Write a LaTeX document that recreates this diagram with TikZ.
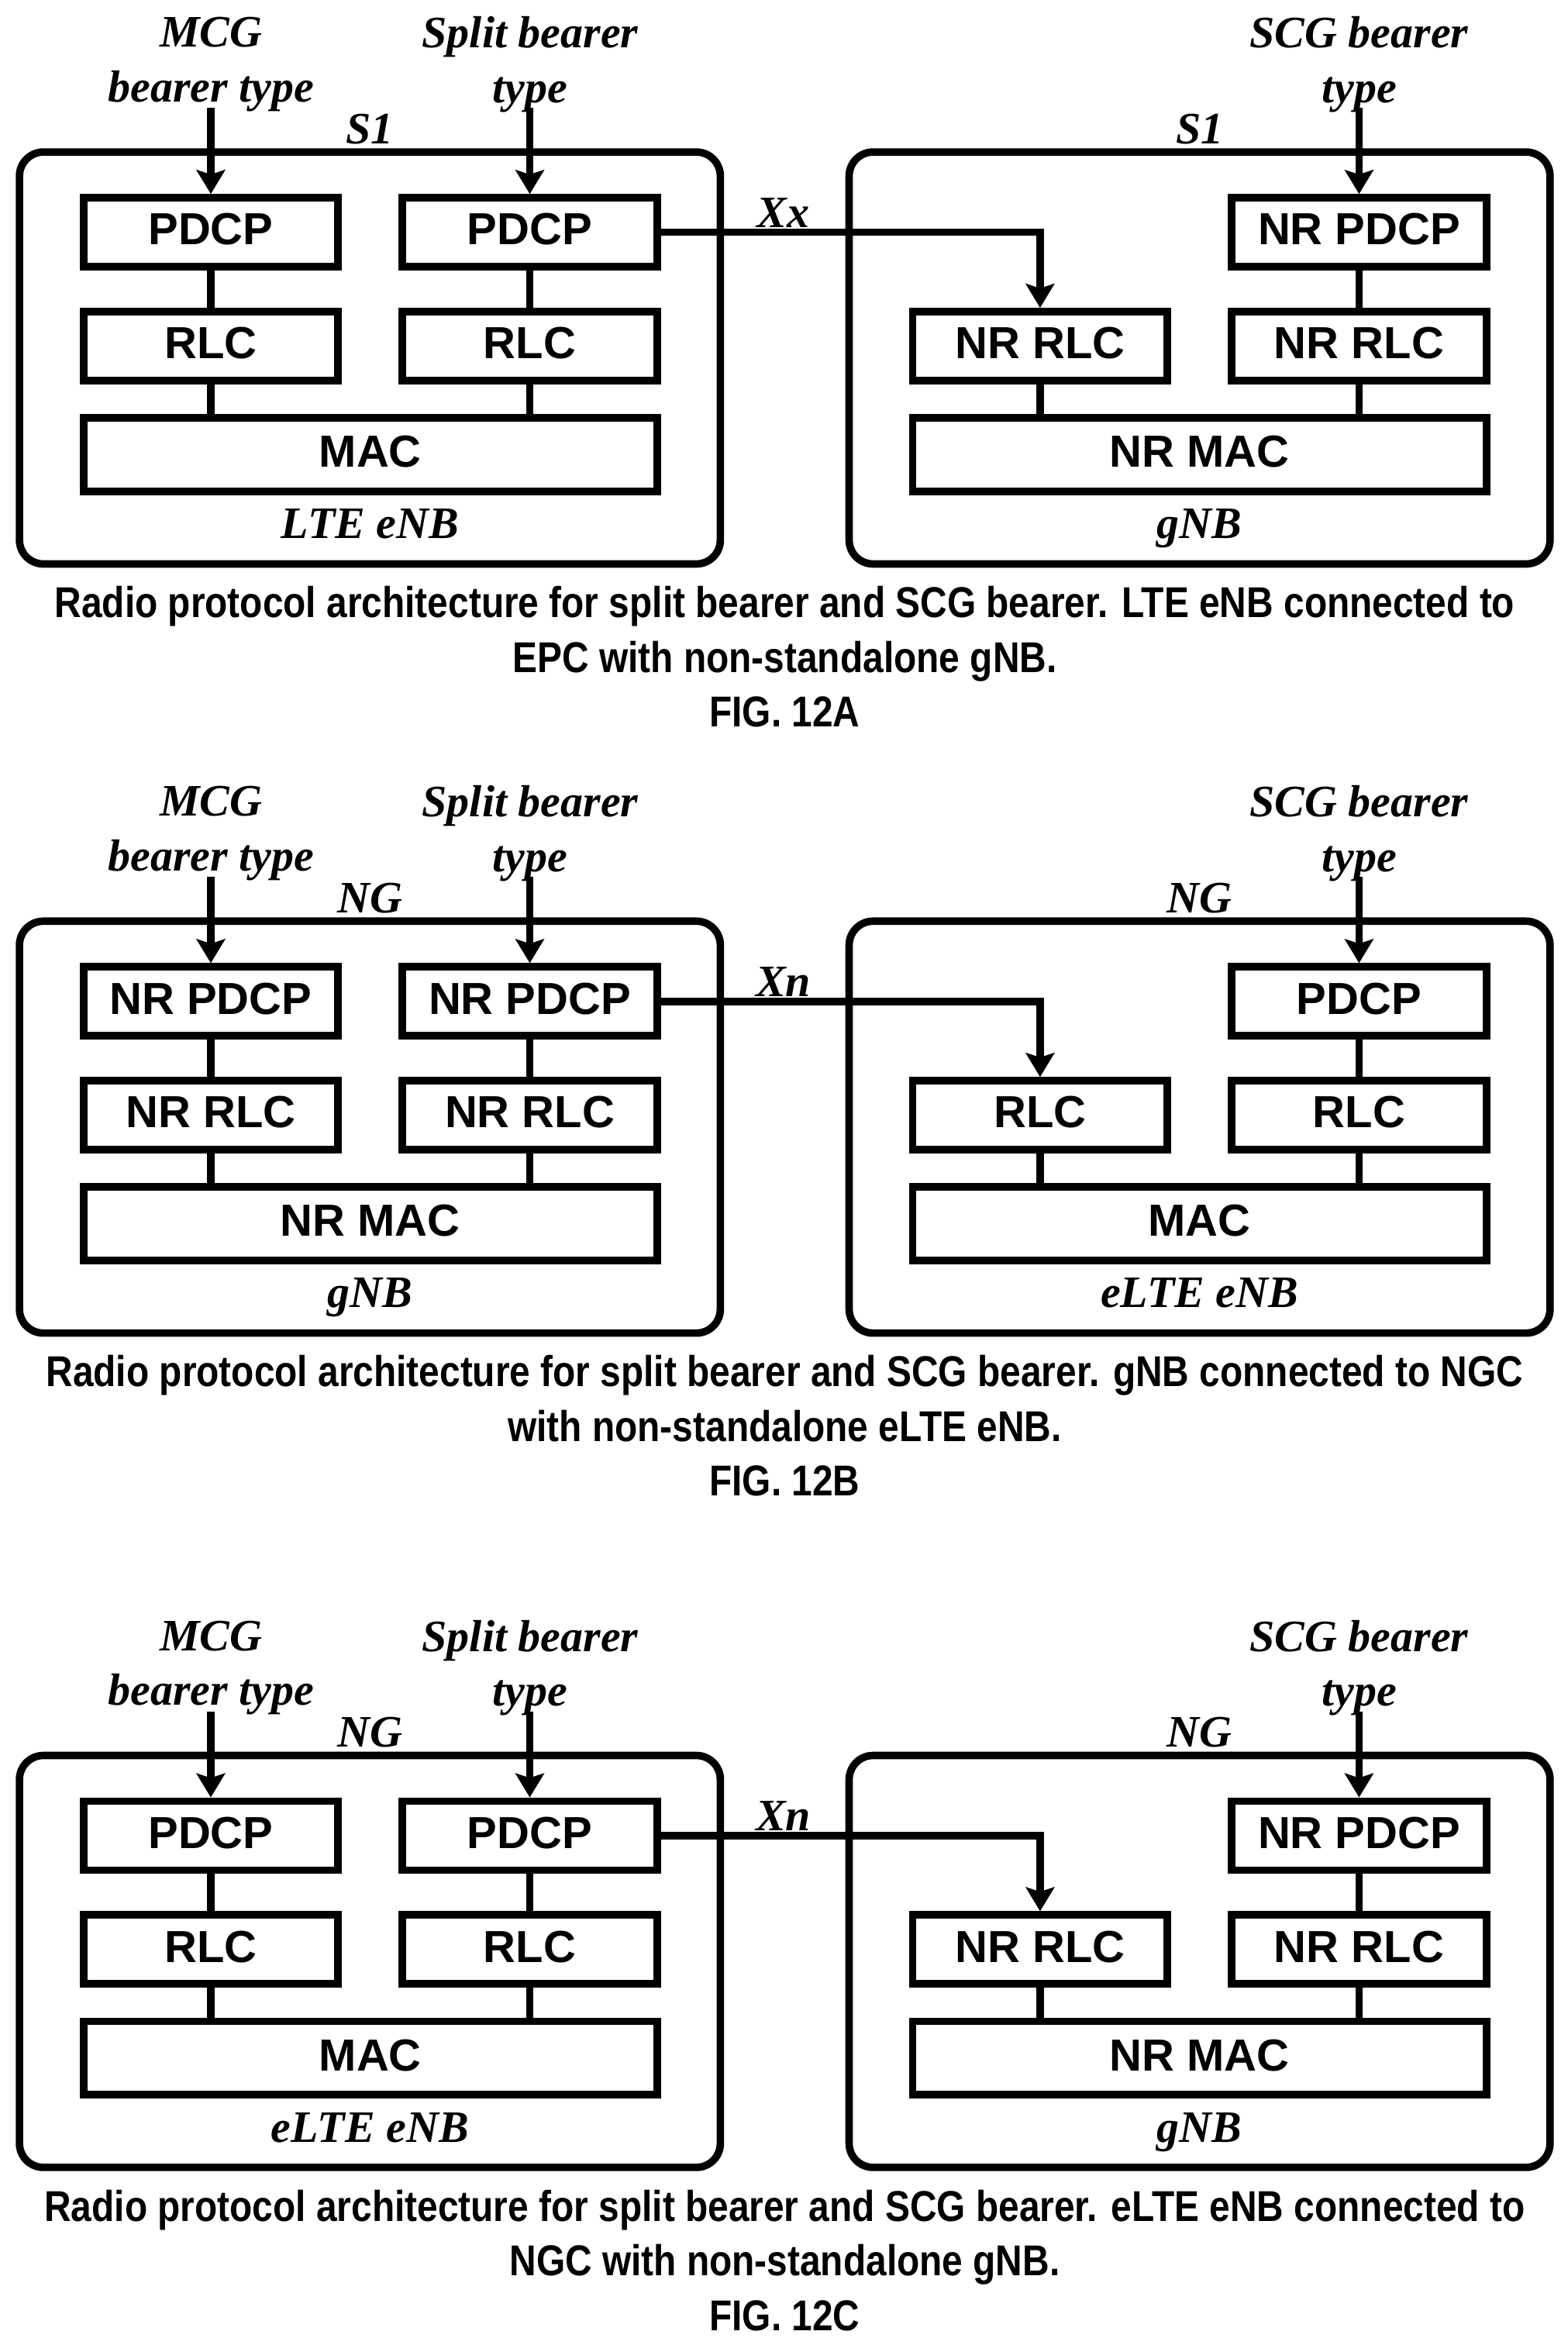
\documentclass[tikz,border=0pt]{standalone}
\usepackage{fontspec}
\usetikzlibrary{arrows.meta}
\newfontfamily\labfont{Liberation Serif}
\newfontfamily\boxfont{Liberation Sans}
\newfontfamily\capfont[FakeStretch=0.86]{Liberation Sans}
\tikzset{
  enbbox/.style={draw, line width=2.5pt, rounded corners=8pt, minimum width=234pt, minimum height=137.5pt},
  layerbox/.style={draw, line width=2.5pt, fill=white, inner sep=0pt, minimum width=85pt, minimum height=23pt,
    text depth=2pt, font=\boxfont\bfseries\fontsize{15}{18}\selectfont},
  macbox/.style={layerbox, minimum width=191.5pt, minimum height=24.5pt},
  lab/.style={inner sep=0pt, align=center, font=\labfont\bfseries\itshape\fontsize{15}{18.25}\selectfont},
  namelab/.style={lab, anchor=base},
  caption/.style={inner sep=0pt, align=center, font=\capfont\bfseries\fontsize{14.4}{18.25}\selectfont},
  conn/.style={line width=2.5pt},
  flow/.style={conn, -{Stealth[length=8pt, width=9.5pt, inset=1.5pt]}}
}
\begin{document}
\begin{tikzpicture}[x=0.5pt, y=-0.5pt]
\useasboundingbox (0,0) rectangle (1047,1565.6);

% One panel per figure: offset, layer names, interface names, caption
\foreach \pn/\yo/\cy/\lp/\lr/\lm/\ln/\rp/\rr/\rmc/\rn/\core/\xn/\captxt in {
  a/0/438.5/PDCP/RLC/MAC/LTE eNB/NR PDCP/NR RLC/NR MAC/gNB/S1/Xx/{Radio protocol architecture for split bearer and SCG bearer. LTE eNB connected to\\EPC with non-standalone gNB.\\FIG. 12A},
  b/513.5/952/NR PDCP/NR RLC/NR MAC/gNB/PDCP/RLC/MAC/eLTE eNB/NG/Xn/{Radio protocol architecture for split bearer and SCG bearer. gNB connected to NGC\\with non-standalone eLTE eNB.\\FIG. 12B},
  c/1070.5/1509/PDCP/RLC/MAC/eLTE eNB/NR PDCP/NR RLC/NR MAC/gNB/NG/Xn/{Radio protocol architecture for split bearer and SCG bearer. eLTE eNB connected to\\NGC with non-standalone gNB.\\FIG. 12C}} {

  % Outer boxes
  \node[enbbox] (left\pn) at (247,\yo+239) {};
  \node[enbbox] (right\pn) at (801,\yo+239) {};

  % Left node layers
  \node[layerbox] (pdcpM\pn) at (140.75,\yo+155) {\lp};
  \node[layerbox] (rlcM\pn) at (140.75,\yo+231) {\lr};
  \node[layerbox] (pdcpS\pn) at (353.75,\yo+155) {\lp};
  \node[layerbox] (rlcS\pn) at (353.75,\yo+231) {\lr};
  \node[macbox] (macL\pn) at (247.25,\yo+303.5) {\lm};

  % Right node layers
  \node[layerbox] (rlcT\pn) at (694.5,\yo+231) {\rr};
  \node[layerbox] (pdcpG\pn) at (907.5,\yo+155) {\rp};
  \node[layerbox] (rlcG\pn) at (907.5,\yo+231) {\rr};
  \node[macbox] (macR\pn) at (801,\yo+303.5) {\rmc};

  % Labels
  \node[lab] (mcg\pn) at (141,\yo+43) {MCG\\bearer type};
  \node[lab] (split\pn) at (354,\yo+43) {Split bearer\\type};
  \node[lab] (scg\pn) at (907.5,\yo+43) {SCG bearer\\type};
  \node[lab] (coreL\pn) at (247,\yo+86) {\core};
  \node[lab] (coreR\pn) at (801,\yo+86) {\core};
  \node[lab] (xlab\pn) at (523,\yo+142) {\xn};
  \node[namelab] (nameL\pn) at (247,\yo+359.5) {\ln};
  \node[namelab] (nameR\pn) at (801,\yo+359.5) {\rn};
  \node[caption] (cap\pn) at (524,\cy) {\captxt};

  % Free ends of the input arrows
  \coordinate (inM\pn) at (140.75,\yo+72);
  \coordinate (inS\pn) at (353.75,\yo+72);
  \coordinate (inG\pn) at (907.5,\yo+72);

  % Connectors
  \draw[flow] (inM\pn) -- (pdcpM\pn.north);
  \draw[flow] (inS\pn) -- (pdcpS\pn.north);
  \draw[flow] (inG\pn) -- (pdcpG\pn.north);
  \draw[flow] (pdcpS\pn.east) -| (rlcT\pn.north);
  \draw[conn] (pdcpM\pn) -- (rlcM\pn);
  \draw[conn] (pdcpS\pn) -- (rlcS\pn);
  \draw[conn] (pdcpG\pn) -- (rlcG\pn);
  \draw[conn] (rlcM\pn.south) -- (rlcM\pn.south |- macL\pn.north);
  \draw[conn] (rlcS\pn.south) -- (rlcS\pn.south |- macL\pn.north);
  \draw[conn] (rlcT\pn.south) -- (rlcT\pn.south |- macR\pn.north);
  \draw[conn] (rlcG\pn.south) -- (rlcG\pn.south |- macR\pn.north);
}
\end{tikzpicture}
\end{document}
